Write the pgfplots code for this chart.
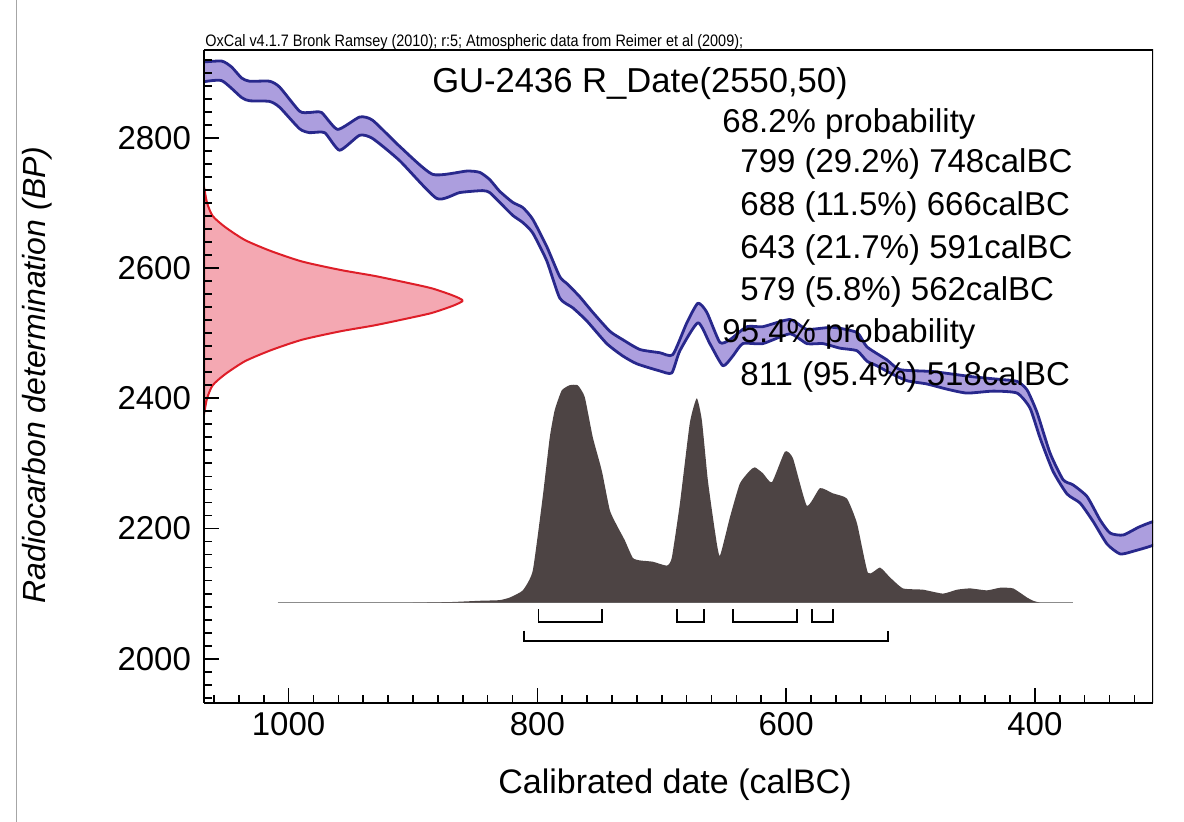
\documentclass[border=0pt]{standalone}
\usepackage{pgfplots}
\pgfplotsset{compat=1.18}
\usepackage{fontspec}
\setmainfont{Liberation Sans}
\definecolor{bandfill}{RGB}{172,158,222}
\definecolor{bandedge}{RGB}{40,40,140}
\definecolor{pinkfill}{RGB}{244,168,178}
\definecolor{rededge}{RGB}{222,30,40}
\definecolor{distgrey}{RGB}{77,68,68}
\begin{document}
% x values are calBC written negative, so that time runs left to right
\begin{tikzpicture}[x=0.5pt,y=0.5pt]
\path[use as bounding box] (0,0) rectangle (1184,822);
\draw[black!35, line width=0.4pt] (16,0) -- (16,822);
\begin{axis}[
  at={(102pt,59.5pt)}, anchor=south west,
  width=474.5pt, height=326.5pt, scale only axis,
  xmin=-1068, xmax=-305,
  ymin=1932, ymax=2935,
  axis x line*=bottom, axis y line*=left,
  xtick={-1000,-800,-600,-400},
  xticklabels={1000,800,600,400},
  ytick={2000,2200,2400,2600,2800},
  minor xtick={-1060,-1040,...,-320},
  tick align=inside,
  major tick length=7.5pt, minor tick length=4pt,
  every tick/.style={black, line width=0.8pt},
  axis line style={line width=1.1pt, -},
  axis on top,
  /pgf/number format/assume math mode=true,
  /pgf/number format/set thousands separator={},
  x tick label style={font=\fontsize{16.5}{17}\selectfont, yshift=-1pt},
  y tick label style={font=\fontsize{16.5}{17}\selectfont, xshift=-3pt},
  clip=true,
]
% calibration curve band
\addplot[fill=bandfill, draw=bandedge, line width=1.4pt, line join=round, smooth, tension=0.35] coordinates {
(-1072,2916) (-1053.9,2918) (-1045.9,2909) (-1037.8,2892) (-1031.4,2887) (-1015.3,2887) (-1007.2,2878) (-991.2,2841) (-983.1,2839) (-973.5,2839) (-960.6,2813) (-942.9,2832) (-932.4,2827) (-910.7,2787) (-884.2,2744) (-856.8,2749) (-846.3,2747) (-838.3,2736) (-830.3,2718) (-819.8,2701) (-811.7,2693) (-803.7,2675) (-792.4,2633) (-782.0,2587) (-775.5,2575) (-765.9,2556) (-755.4,2532) (-741.7,2503) (-731.3,2490) (-717.6,2475) (-701.5,2470) (-691.1,2467) (-679.8,2516) (-670.9,2546) (-663.7,2532) (-653.3,2486) (-645.2,2490) (-631.5,2510) (-618.7,2510) (-596.9,2521) (-583.3,2506) (-562.4,2509) (-543.0,2501) (-535.0,2479) (-518.9,2459) (-508.4,2444) (-481.9,2441) (-449.7,2433) (-428.0,2429) (-414.3,2426) (-406.3,2413) (-398.2,2378) (-387.8,2316) (-377.3,2275) (-369.3,2267) (-358.0,2249) (-347.5,2213) (-339.5,2193) (-329.0,2190) (-315.4,2203) (-300,2212)
(-300,2179) (-321.0,2165) (-331.5,2161) (-341.9,2176) (-353.2,2211) (-363.6,2239) (-374.1,2253) (-385.4,2288) (-395.8,2339) (-403.9,2385) (-414.3,2408) (-433.6,2411) (-454.5,2408) (-470.6,2414) (-486.7,2422) (-502.8,2427) (-516.5,2439) (-527.0,2450) (-535.0,2457) (-543.0,2473) (-556.7,2477) (-570.4,2484) (-583.3,2484) (-596.9,2499) (-618.7,2484) (-634.8,2484) (-642.8,2465) (-650.8,2450) (-661.3,2484) (-670.9,2516) (-685.4,2473) (-691.9,2439) (-701.5,2442) (-720.0,2453) (-731.3,2465) (-744.2,2484) (-760.3,2519) (-771.5,2539) (-782.0,2554) (-792.4,2611) (-803.7,2654) (-811.7,2670) (-819.8,2681) (-830.3,2701) (-838.3,2716) (-843.9,2719) (-862.4,2716) (-880.9,2707) (-910.7,2765) (-932.4,2799) (-942.9,2804) (-959.0,2781) (-971.0,2808) (-983.1,2808) (-991.2,2814) (-1007.2,2847) (-1015.3,2856) (-1031.4,2857) (-1037.8,2862) (-1053.9,2888) (-1072,2885)
} -- cycle;
% radiocarbon date (normal distribution on y axis)
\addplot[fill=pinkfill, draw=rededge, line width=1pt, line join=round, smooth, tension=0.4] coordinates {
(-1068,2725) (-1065.5,2700) (-1061,2680) (-1051,2663) (-1035,2643) (-1014,2626) (-989,2610) (-958,2597) (-931,2588) (-906,2578) (-885,2569) (-868,2558) (-860,2550) (-868,2542) (-885,2531) (-906,2522) (-931,2512) (-958,2503) (-989,2490) (-1014,2474) (-1035,2457) (-1051,2437) (-1061,2420) (-1065.5,2400) (-1068,2375)
} -- cycle;
% baseline of calibrated distribution
\addplot[black!45, line width=0.6pt] coordinates {(-1008.8,2086) (-369.3,2086)};
% calibrated distribution
\addplot[fill=distgrey, draw=none, smooth, tension=0.3] coordinates {
(-900,2086) (-870,2087) (-846.3,2089) (-830.3,2090) (-822.2,2094) (-811.7,2105) (-803.7,2135) (-795.7,2248) (-790.0,2340) (-786.0,2382) (-780.4,2412) (-774.1,2420) (-767.5,2420) (-761.9,2402) (-755.4,2340) (-748.2,2289) (-741.7,2228) (-735.3,2202) (-729.7,2182) (-723.3,2155) (-717.6,2151) (-707.2,2149) (-695.9,2143) (-691.9,2155) (-685.4,2238) (-677.4,2362) (-671.8,2400) (-667.7,2366) (-662.9,2274) (-657.3,2197) (-653.3,2158) (-645.2,2217) (-637.2,2269) (-629.1,2289) (-625.1,2294) (-618.7,2285) (-611.4,2271) (-601.0,2318) (-594.5,2308) (-583.3,2235) (-572.8,2262) (-562.4,2254) (-551.1,2246) (-543.0,2208) (-534.2,2132) (-524.5,2140) (-516.5,2125) (-506.0,2108) (-489.9,2106) (-473.9,2100) (-462.6,2106) (-452.1,2108) (-438.5,2105) (-428.0,2109) (-417.5,2108) (-406.3,2094) (-401.4,2089) (-395.8,2086)
} -- cycle;
% 68.2% ranges
\addplot[black, line width=0.9pt] coordinates {(-799,2076) (-799,2057) (-748,2057) (-748,2076)};
\addplot[black, line width=0.9pt] coordinates {(-688,2076) (-688,2057) (-666,2057) (-666,2076)};
\addplot[black, line width=0.9pt] coordinates {(-643,2076) (-643,2057) (-591,2057) (-591,2076)};
\addplot[black, line width=0.9pt] coordinates {(-579,2076) (-579,2057) (-562,2057) (-562,2076)};
% 95.4% range
\addplot[black, line width=0.9pt] coordinates {(-811,2043) (-811,2027) (-518,2027) (-518,2043)};
% top and right frame lines
\draw[black, line width=1.1pt] (rel axis cs:0,1) -- (rel axis cs:1,1) -- (rel axis cs:1,0);
\end{axis}
% inward y ticks along the left frame (lengths in pixels of the picture)
\begin{axis}[
  at={(102pt,59.5pt)}, anchor=south west,
  width=474.5pt, height=326.5pt, scale only axis,
  xmin=0, xmax=949, ymin=1932, ymax=2935,
  hide axis, clip=false,
]
\addplot[xcomb, black, line width=0.9pt] coordinates {(15,2000) (15,2200) (15,2400) (15,2600) (15,2800)};
\addplot[xcomb, black, line width=0.9pt] coordinates {
(8,1940) (8,1960) (8,1980) (8,2020) (8,2040) (8,2060) (8,2080) (8,2100) (8,2120) (8,2140) (8,2160) (8,2180)
(8,2220) (8,2240) (8,2260) (8,2280) (8,2300) (8,2320) (8,2340) (8,2360) (8,2380)
(8,2420) (8,2440) (8,2460) (8,2480) (8,2500) (8,2520) (8,2540) (8,2560) (8,2580)
(8,2620) (8,2640) (8,2660) (8,2680) (8,2700) (8,2720) (8,2740) (8,2760) (8,2780)
(8,2820) (8,2840) (8,2860) (8,2880) (8,2900) (8,2920)};
\end{axis}
% texts
\node[anchor=base west, inner sep=0pt] at (205,775) {\scalebox{0.87}[1]{\fontsize{8.3}{9}\selectfont OxCal v4.1.7 Bronk Ramsey (2010); r:5; Atmospheric data from Reimer et al (2009);}};
\node[anchor=base, inner sep=0pt, font=\fontsize{17.3}{20}\selectfont] at (640,729) {GU-2436 R\_Date(2550,50)};
\begin{scope}[every node/.style={anchor=base west, inner sep=0pt, font=\fontsize{16.5}{19}\selectfont}]
\node at (722,689) {68.2\% probability};
\node at (740,649) {799 (29.2\%) 748calBC};
\node at (740,606) {688 (11.5\%) 666calBC};
\node at (740,563) {643 (21.7\%) 591calBC};
\node at (740,521) {579 (5.8\%) 562calBC};
\node at (722,479) {95.4\% probability};
\node at (740,436) {811 (95.4\%) 518calBC};
\end{scope}
\node[rotate=90, font=\fontsize{16}{19}\selectfont\itshape] at (37,447) {Radiocarbon determination (BP)};
\node[font=\fontsize{17}{20}\selectfont] at (675,37) {Calibrated date (calBC)};
\end{tikzpicture}
\end{document}
